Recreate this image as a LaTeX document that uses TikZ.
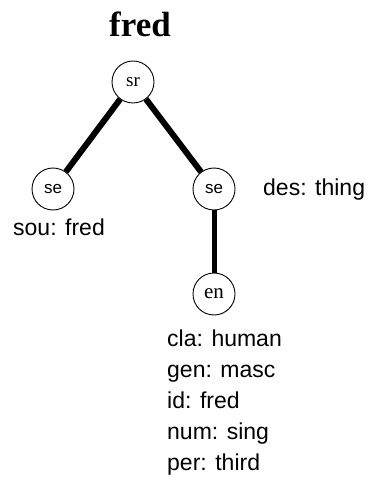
\documentclass[tikz,border=0pt]{standalone}
\usepackage{fontspec}
\setmainfont{Liberation Sans}
\newfontfamily\serifface{Liberation Serif}
\usepackage{tikz}

\begin{document}
\begin{tikzpicture} [x=1pt, y=-1pt,
    treeNode/.style={circle,draw=black,fill=white,inner sep=0pt,minimum size=42pt, line width=0.9pt},
    feature/.style={inner sep=0pt, font=\fontsize{23}{31}\selectfont},
    branch/.style={line width=6pt, color=black}
]
    \useasboundingbox (0,0) rectangle (367,478);
    % title above the root
    \node[inner sep=0pt, anchor=base, font=\serifface\bfseries\fontsize{35}{35}\selectfont] (title) at (140, 37) {fred};
    \node[treeNode] (sr) at (133, 82) {\serifface\fontsize{19}{19}\selectfont sr};
    \node[treeNode] (seL) at (53, 189) {\fontsize{17}{17}\selectfont se};
    \node[treeNode] (seR) at (214, 189) {\fontsize{17}{17}\selectfont se};
    \node[treeNode] (en) at (214, 294) {\serifface\fontsize{21}{21}\selectfont en};

    \node[feature, anchor=base west] (sou) at (13, 235) {sou: fred};
    \node[feature, anchor=base west] (des) at (263, 195) {des: thing};
    \node[feature, anchor=north west, align=left] (feats) at (167, 330) {cla: human\\gen: masc\\id: fred\\num: sing\\per: third};

    \draw [branch] (sr) -- (seL);
    \draw [branch] (sr) -- (seR);
    \draw [branch, line width=5pt] (seR) -- (en);
\end{tikzpicture}
\end{document}
